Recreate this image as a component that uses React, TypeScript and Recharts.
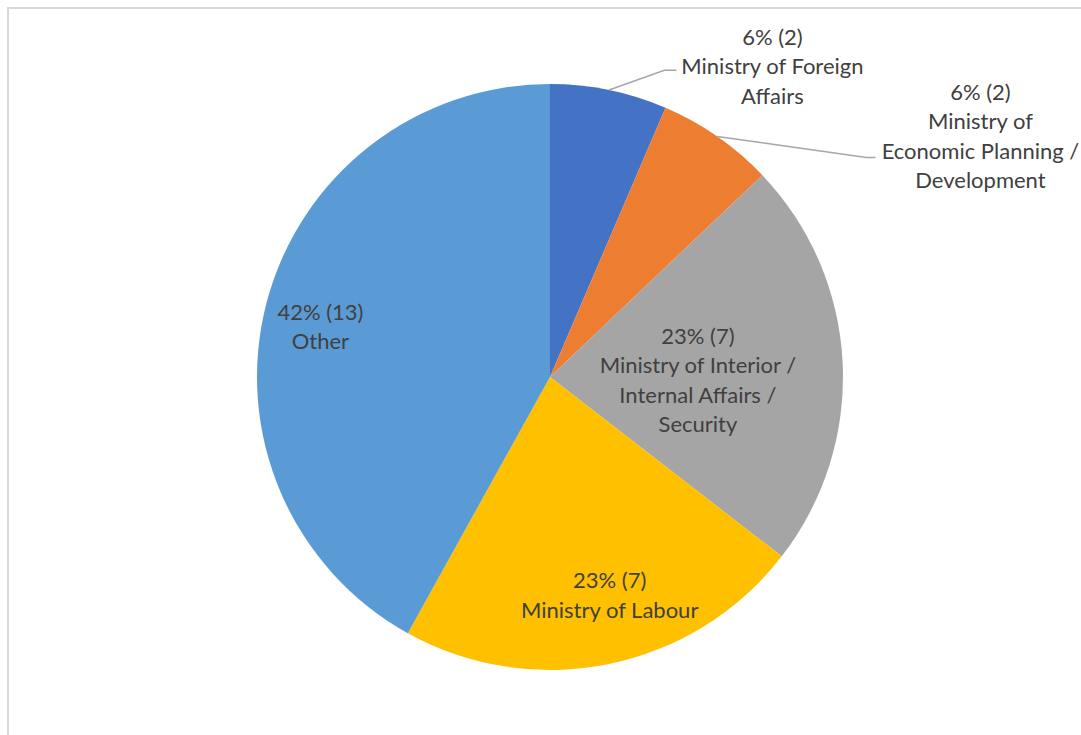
import React from 'react';
import { PieChart, Pie, Cell } from 'recharts';

const categories = [
  'Ministry of Foreign Affairs',
  'Ministry of Economic Planning / Development',
  'Ministry of Interior / Internal Affairs / Security',
  'Ministry of Labour',
  'Other',
];
const counts = [2, 2, 7, 7, 13];
const percentLabels = ['6%', '6%', '23%', '23%', '42%'];
// how each category label is broken into lines
const labelLines = [
  ['Ministry of Foreign', 'Affairs'],
  ['Ministry of', 'Economic Planning /', 'Development'],
  ['Ministry of Interior /', 'Internal Affairs /', 'Security'],
  ['Ministry of Labour'],
  ['Other'],
];
const colors = ['#4472C4', '#ED7D31', '#A5A5A5', '#FFC000', '#5B9BD5'];

// label placement: polar position of label centre (radius factor, clockwise degrees from top)
// outside labels also get a leader line ending at (endDx, endDy) from the label centre
const labelLayout = [
  { rf: 1.304, ang: 35.6, outside: true, endDx: -96, endDy: 4, elbow: 12 },
  { rf: 1.683, ang: 60.8, outside: true, endDx: -105, endDy: 21, elbow: 9 },
  { rf: 0.505, ang: 91.3, outside: false },
  { rf: 0.772, ang: 164.7, outside: false },
  { rf: 0.802, ang: 282.3, outside: false },
];

const data = categories.map((name, i) => ({ name, value: counts[i] }));

const RAD = Math.PI / 180;
const LINE_H = 29.5;
const TEXT_COLOR = '#404040';

const renderLabel = (props: any) => {
  const { cx, cy, midAngle, outerRadius, index } = props;
  const lay = labelLayout[index];
  const a = lay.ang * RAD;
  const lx = cx + outerRadius * lay.rf * Math.sin(a);
  const ly = cy - outerRadius * lay.rf * Math.cos(a);
  const lines = [`${percentLabels[index]} (${counts[index]})`, ...labelLines[index]];
  const top = ly - ((lines.length - 1) * LINE_H) / 2;

  let leader = null;
  if (lay.outside) {
    const sx = cx + outerRadius * Math.cos(-midAngle * RAD);
    const sy = cy + outerRadius * Math.sin(-midAngle * RAD);
    const ex = lx + (lay.endDx as number);
    const ey = ly + (lay.endDy as number);
    leader = (
      <polyline
        points={`${sx},${sy} ${ex - (lay.elbow as number)},${ey} ${ex},${ey}`}
        fill="none"
        stroke="#A6A6A6"
        strokeWidth={1.5}
      />
    );
  }

  return (
    <g key={`lbl-${index}`}>
      {leader}
      <text
        x={lx}
        y={top}
        textAnchor="middle"
        fill={TEXT_COLOR}
        fontFamily="Lato, 'Open Sans', sans-serif"
        fontSize={22}
      >
        {lines.map((t, i) => (
          <tspan key={i} x={lx} y={top + i * LINE_H} dy="0.35em">
            {t}
          </tspan>
        ))}
      </text>
    </g>
  );
};

export default function App() {
  return (
    <div
      style={{
        position: 'absolute',
        left: 7,
        top: 7,
        width: 1074,
        height: 728,
        borderLeft: '2px solid #D9D9D9',
        borderTop: '2px solid #D9D9D9',
        boxSizing: 'border-box',
        background: '#fff',
      }}
    >
      <PieChart width={1072} height={726} margin={{ top: 0, right: 0, bottom: 0, left: 0 }}>
        <Pie
          data={data}
          dataKey="value"
          nameKey="name"
          cx={541}
          cy={368}
          outerRadius={293}
          startAngle={90}
          endAngle={-270}
          stroke="none"
          label={renderLabel}
          labelLine={false}
          isAnimationActive={false}
        >
          {data.map((d, i) => (
            <Cell key={d.name} fill={colors[i]} />
          ))}
        </Pie>
      </PieChart>
    </div>
  );
}
